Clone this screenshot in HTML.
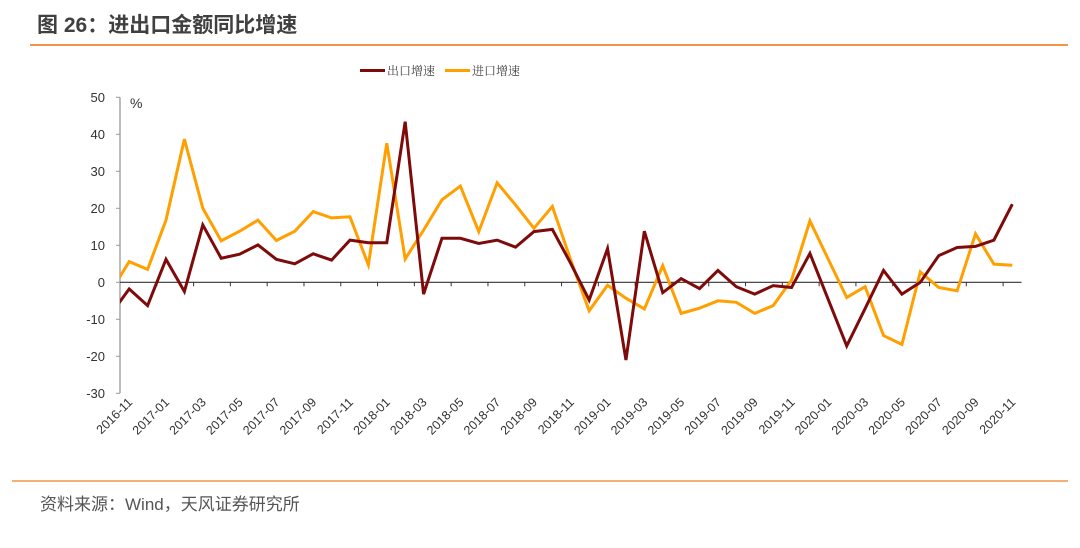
<!DOCTYPE html>
<html><head><meta charset="utf-8">
<style>
html,body{margin:0;padding:0;background:#fff;}
body{width:1080px;height:543px;overflow:hidden;position:relative;font-family:"Liberation Sans","Noto Sans CJK SC",sans-serif;}
</style></head>
<body>
<svg width="1080" height="543" viewBox="0 0 1080 543" xmlns="http://www.w3.org/2000/svg">
  <text x="37" y="32" font-size="21" font-weight="bold" fill="#404040" font-family="Liberation Sans, Noto Sans CJK SC, sans-serif">图 26：进出口金额同比增速</text>
  <line x1="30" y1="45" x2="1068" y2="45" stroke="#f0954a" stroke-width="2"/>
  <g>
    <g>
      <line x1="360" y1="70.5" x2="385" y2="70.5" stroke="#7f0a0a" stroke-width="3"/>
      <text x="387" y="75" font-size="12" fill="#444" font-family="Liberation Serif, Noto Serif CJK SC, serif">出口增速</text>
    </g>
    <g>
      <line x1="445" y1="70.5" x2="470" y2="70.5" stroke="#ff9f00" stroke-width="3"/>
      <text x="472" y="75" font-size="12" fill="#444" font-family="Liberation Serif, Noto Serif CJK SC, serif">进口增速</text>
    </g>
  </g>
  <g id="plot"></g>
  <line x1="12" y1="481" x2="1068" y2="481" stroke="#f0954a" stroke-width="1.5"/>
  <text x="40" y="510" font-size="17" fill="#555" font-family="Liberation Sans, Noto Sans CJK SC, sans-serif">资料来源：Wind，天风证券研究所</text>
</svg>
<script>
// data: first entry is 2016-10 (partly clipped at axis), then 2016-11 .. 2020-11
const months = ["2016-10","2016-11","2016-12","2017-01","2017-02","2017-03","2017-04","2017-05","2017-06","2017-07","2017-08","2017-09","2017-10","2017-11","2017-12","2018-01","2018-02","2018-03","2018-04","2018-05","2018-06","2018-07","2018-08","2018-09","2018-10","2018-11","2018-12","2019-01","2019-02","2019-03","2019-04","2019-05","2019-06","2019-07","2019-08","2019-09","2019-10","2019-11","2019-12","2020-01","2020-02","2020-03","2020-04","2020-05","2020-06","2020-07","2020-08","2020-09","2020-10","2020-11"];
const exportGrowth = [-8.6,-1.8,-6.3,6.2,-2.5,15.5,6.5,7.6,10.1,6.2,5.0,7.7,6.0,11.4,10.7,10.7,43.4,-3.2,11.9,11.9,10.5,11.4,9.5,13.7,14.3,5.1,-4.8,9.1,-21.0,13.8,-2.8,1.0,-1.7,3.2,-1.2,-3.2,-0.9,-1.4,7.8,-4.7,-17.2,-7.1,3.2,-3.2,0.0,7.2,9.4,9.7,11.4,21.1];
const importGrowth = [-2.5,5.6,3.5,16.8,38.7,20.0,11.2,13.8,16.8,11.3,13.8,19.1,17.4,17.7,4.7,37.6,6.3,14.1,22.3,26.0,13.7,26.9,20.9,14.6,20.5,6.0,-7.7,-0.8,-4.3,-7.2,4.5,-8.4,-7.0,-5.0,-5.4,-8.4,-6.3,0.6,16.6,6.2,-4.1,-1.2,-14.4,-16.8,2.8,-1.4,-2.3,13.1,4.9,4.6];
const yTicks = [50,40,30,20,10,0,-10,-20,-30];

const NS = "http://www.w3.org/2000/svg";
const plot = document.getElementById('plot');
const X0 = 120, X1 = 1021.5, Y0 = 282.3, PX10 = 37;
const catW = (X1 - X0) / (months.length - 1);
function xPos(i){ return X0 - catW/2 + i*catW; }
function yPos(v){ return Y0 - v*PX10/10; }
function mk(tag, attrs, parent){ const e=document.createElementNS(NS,tag); for(const k in attrs) e.setAttribute(k,attrs[k]); (parent||plot).appendChild(e); return e; }

const defs = mk('defs',{});
const cp = mk('clipPath',{id:'pc'},defs);
mk('rect',{x:X0,y:80,width:X1-X0+5,height:330},cp);

const yAxis = mk('g',{});


mk('line',{x1:X0,y1:yPos(50),x2:X0,y2:yPos(-30),stroke:'#999','stroke-width':1.3},yAxis);
yTicks.forEach(t=>{
  mk('line',{x1:X0-4,y1:yPos(t),x2:X0,y2:yPos(t),stroke:'#999','stroke-width':1},yAxis);
  const tx = mk('text',{x:105,y:yPos(t)+4.5,'font-size':13,fill:'#333','text-anchor':'end'},yAxis);
  tx.textContent = t;
  
  
});
const pct = mk('text',{x:130,y:108,'font-size':14,fill:'#333'},yAxis);
pct.textContent='%';



const xAxis = mk('g',{});


mk('line',{x1:X0,y1:Y0,x2:X1,y2:Y0,stroke:'#333','stroke-width':1.2},xAxis);
for(let k=2;k<=49;k+=2){
  const bx = X0 + k*catW;
  if(bx<=X1+1) mk('line',{x1:bx,y1:Y0,x2:bx,y2:Y0+4,stroke:'#333','stroke-width':1},xAxis);
}
for(let i=1;i<months.length;i+=2){
  const cx = xPos(i);
  const t = mk('text',{x:cx+4,y:403,'font-size':12.5,fill:'#333','text-anchor':'end',transform:`rotate(-45 ${cx+4} 403)`},xAxis);
  t.textContent = months[i];
  
  
}

function drawLine(vals,color,name){
  const d = vals.map((v,i)=>(i?'L':'M')+xPos(i).toFixed(2)+' '+yPos(v).toFixed(2)).join(' ');
  const p = mk('path',{d:d,fill:'none',stroke:color,'stroke-width':3,'stroke-linejoin':'miter','clip-path':'url(#pc)'});
  
  
}
drawLine(importGrowth,'#ff9f00','import-growth-line');
drawLine(exportGrowth,'#7f0a0a','export-growth-line');
</script>
</body></html>
